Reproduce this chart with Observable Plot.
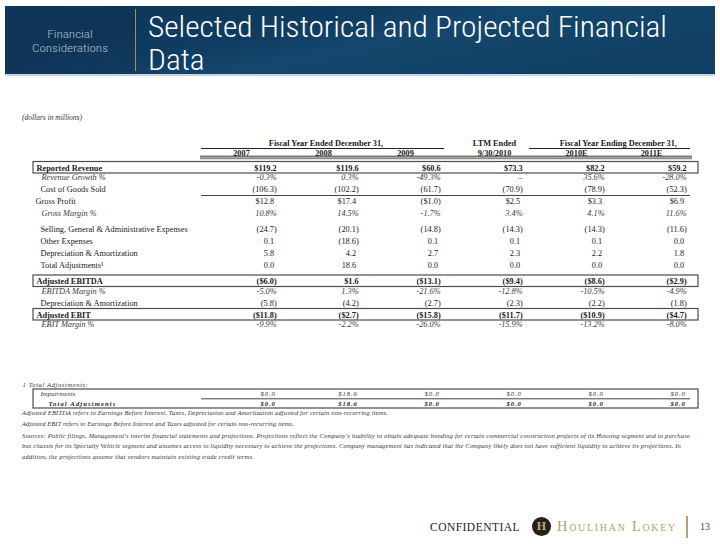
<!DOCTYPE html>
<html>
<head>
<meta charset="utf-8">
<script src="https://cdn.jsdelivr.net/npm/d3@7"></script>
<script src="https://cdn.jsdelivr.net/npm/@observablehq/plot@0.6"></script>
<style>
  body { margin: 0; background: #fff; width: 720px; height: 544px; position: relative; overflow: hidden; font-family: "Liberation Serif", serif; }
  .abs { position: absolute; white-space: nowrap; }
  #banner { left: 5px; top: 6px; width: 710px; height: 68px;
    background: linear-gradient(168deg, #0e3659 0%, #0f3c61 38%, #15476e 52%, #124368 70%, #104064 100%); }
  #panel { left: 5px; top: 6px; width: 130px; height: 68px;
    background: linear-gradient(165deg, #0f3658 0%, #0e3455 50%, #123b5e 100%); }
  #goldbar { left: 135px; top: 9px; width: 1px; height: 62px; background: #a48d5e; }
  #underbar { left: 5px; top: 74px; width: 710px; height: 2px; background: #c9d5de; }
  .narrow { font-family: "Roboto Condensed", "Roboto", "Liberation Sans Narrow", "Liberation Sans", Arial, sans-serif; font-weight: 300; }
  #panelText { left: 5px; top: 27px; width: 130px; text-align: center; color: #b3c0cd; font-size: 11.8px; line-height: 14px; }
  #title { left: 148px; top: 10px; color: #fff; font-size: 30px; line-height: 33px; transform-origin: left top; }
  #title div { display: block; }
  #title span { display: inline-block; }
  #units { left: 22px; top: 113px; font-size: 7.5px; font-style: italic; color: #333; }
  .note { left: 22px; font-size: 6.5px; font-style: italic; color: #333; line-height: 8px; }
  #plotHolder { left: 0; top: 80px; width: 720px; height: 340px; }
  #confidential { left: 430px; top: 519px; font-size: 11.5px; color: #1c1c1c; line-height: 16px; }
  #logo { left: 532px; top: 517px; width: 19px; height: 19px; border-radius: 50%; background: #25201c; color: #c4a877; font: bold 12px/19px "Liberation Serif", serif; text-align: center; }
  #firm { left: 557px; top: 518px; color: #b89e70; font-size: 14.5px; line-height: 17px; font-variant: small-caps; }
  #sep { left: 686px; top: 516px; width: 1.5px; height: 22px; background: #b89e70; }
  #page { left: 700px; top: 520px; font-size: 10px; line-height: 14px; color: #444; }
</style>
</head>
<body>
<div id="banner" class="abs"></div>
<div id="panel" class="abs"></div>
<div id="goldbar" class="abs"></div>
<div id="underbar" class="abs"></div>
<div id="panelText" class="abs narrow"><div>Financial</div><div><span id="consid" style="display:inline-block">Considerations</span></div></div>
<div id="title" class="abs narrow"><div><span id="t1">Selected Historical and Projected Financial</span></div><div>Data</div></div>
<div id="units" class="abs">(dollars in millions)</div>
<div id="plotHolder" class="abs"></div>
<div id="notes"></div>
<div id="confidential" class="abs">CONFIDENTIAL</div>
<div id="logo" class="abs">H</div>
<div id="firm" class="abs">Houlihan Lokey</div>
<div id="sep" class="abs"></div>
<div id="page" class="abs">13</div>
<script>
// ---------------- DATA ----------------
const years = ["2007", "2008", "2009", "9/30/2010", "2010E", "2011E"];
const groupHeaders = ["Fiscal Year Ended December 31,", "LTM Ended", "Fiscal Year Ending December 31,"];
const rowLabels = [
  "Reported Revenue", "Revenue Growth %", "Cost of Goods Sold", "Gross Profit", "Gross Margin %",
  "Selling, General & Administrative Expenses", "Other Expenses", "Depreciation & Amortization", "Total Adjustments¹",
  "Adjusted EBITDA", "EBITDA Margin %", "Depreciation & Amortization", "Adjusted EBIT", "EBIT Margin %"
];
const reportedRevenue  = [119.2, 119.6, 60.6, 73.3, 82.2, 59.2];
const revenueGrowth    = [-0.3, 0.3, -49.3, null, 35.6, -28.0];
const costOfGoodsSold  = [-106.3, -102.2, -61.7, -70.9, -78.9, -52.3];
const grossProfit      = [12.8, 17.4, -1.0, 2.5, 3.3, 6.9];
const grossMargin      = [10.8, 14.5, -1.7, 3.4, 4.1, 11.6];
const sgaExpenses      = [-24.7, -20.1, -14.8, -14.3, -14.3, -11.6];
const otherExpenses    = [0.1, -18.6, 0.1, 0.1, 0.1, 0.0];
const depreciation     = [5.8, 4.2, 2.7, 2.3, 2.2, 1.8];
const totalAdjustments = [0.0, 18.6, 0.0, 0.0, 0.0, 0.0];
const adjustedEbitda   = [-6.0, 1.6, -13.1, -9.4, -8.6, -2.9];
const ebitdaMargin     = [-5.0, 1.3, -21.6, -12.8, -10.5, -4.9];
const depreciationEbit = [-5.8, -4.2, -2.7, -2.3, -2.2, -1.8];
const adjustedEbit     = [-11.8, -2.7, -15.8, -11.7, -10.9, -4.7];
const ebitMargin       = [-9.9, -2.2, -26.0, -15.9, -13.2, -8.0];
const adjustmentTitle  = "1 Total Adjustments:";
const adjustmentLabels = ["Impairments", "Total Adjustments"];
const impairments      = [0.0, 18.6, 0.0, 0.0, 0.0, 0.0];
const adjustmentTotal  = [0.0, 18.6, 0.0, 0.0, 0.0, 0.0];
const footnotes = [
  "Adjusted EBITDA refers to Earnings Before Interest, Taxes, Depreciation and Amortization adjusted for certain non-recurring items.",
  "Adjusted EBIT refers to Earnings Before Interest and Taxes  adjusted for certain non-recurring items.",
  "Sources: Public filings, Management's interim financial statements and projections. Projections reflect the Company's inability to obtain adequate bonding for certain commercial construction projects of its Housing segment and to purchase",
  "bus chassis for its Specialty Vehicle segment and assumes access to liquidity necessary to achieve the projections. Company management has indicated that the Company likely does not have sufficient liquidity to achieve its projections. In",
  "addition, the projections assume that vendors maintain existing trade credit terms."
];

// ---------------- TABLE STRUCTURE (semantic) ----------------
const series = [reportedRevenue, revenueGrowth, costOfGoodsSold, grossProfit, grossMargin,
  sgaExpenses, otherExpenses, depreciation, totalAdjustments,
  adjustedEbitda, ebitdaMargin, depreciationEbit, adjustedEbit, ebitMargin];
const formats = ["dollar", "percent", "number", "dollar", "percent", "number", "number", "number", "number",
  "dollar", "percent", "number", "dollar", "percent"];
const levels = ["total", "ratio", "item", "subtotal", "ratio", "item", "item", "item", "item",
  "total", "ratio", "item", "total", "ratio"];
const sections = [0, 0, 0, 0, 0, 1, 1, 1, 1, 2, 2, 2, 2, 2];

// ---------------- LAYOUT ----------------
const L = { firstRow: 167.5, step: 12, ratioStep: 9.5, sectionStep: 16, notesTop: 384 };

const rows = [];
rowLabels.forEach((label, i) => {
  let y = L.firstRow;
  if (i > 0) {
    const prev = rows[i - 1];
    const gap = (levels[i] === "ratio" && prev.level === "total") ? L.ratioStep
      : (sections[i] !== prev.section ? L.sectionStep : L.step);
    y = prev.y + gap;
  }
  rows.push({ label, y, level: levels[i], format: formats[i], section: sections[i], values: series[i] });
});

function fmt(v, f) {
  if (v == null) return "–";
  const a = Math.abs(v).toFixed(1);
  if (f === "percent") return v.toFixed(1) + "%";
  if (f === "dollar") return v < 0 ? `($${a})` : `$${a}`;
  return v < 0 ? `(${a})` : a;
}

const cells = rows.flatMap(r => r.values.map((v, j) => ({
  col: years[j], y: r.y, text: fmt(v, r.format), level: r.level,
  pad: r.format !== "percent" && v != null && v >= 0
})));

const hdr1Y = L.firstRow - 24.5, hdr2Y = L.firstRow - 15;
const boxRows = rows.filter(r => r.level === "total");
const cogsRow = rows[2];
const shifted = [years[3], years[4]];

// footnote mini table
const adjY = [L.notesTop + 9.5, L.notesTop + 19.5];
const adjCells = [impairments, adjustmentTotal].flatMap((arr, k) => arr.map((v, j) => ({
  col: years[j], y: adjY[k], text: "$" + v.toFixed(1), k })));

const xRange = [199, 693];
const bw = (xRange[1] - xRange[0]) / years.length;

const serif = "Liberation Serif, Times New Roman, serif";
const small = 6.6;
const plot = Plot.plot({
  width: 720, height: 340,
  marginLeft: 33, marginRight: 22, marginTop: 0, marginBottom: 0,
  x: { type: "band", domain: years, range: xRange, padding: 0, axis: null },
  y: { type: "linear", domain: [80, 420], range: [0, 340], axis: null },
  style: { background: "transparent", fontFamily: serif, fontSize: "8.3px", color: "#1a1a1a", overflow: "visible" },
  marks: [
    // boxes
    Plot.rect(boxRows, { y1: d => d.y - 6, y2: d => d.y + 5.5, fill: "none", stroke: "#4d4d4d", strokeWidth: 1.2 }),
    // group headers
    Plot.text([groupHeaders[0]], { x: () => years[1], y: () => hdr1Y, text: d => d, fontWeight: "bold", dx: 2.5 }),
    Plot.text([groupHeaders[1]], { x: () => years[3], y: () => hdr1Y, text: d => d, fontWeight: "bold", dx: 7 }),
    Plot.text([groupHeaders[2]], { x: () => years[5], y: () => hdr1Y, text: d => d, fontWeight: "bold", dx: -bw / 2 + 8 }),
    Plot.ruleY([{ a: years[0], b: years[2] }, { a: years[4], b: years[5] }],
      { x1: "a", x2: "b", y: () => hdr1Y + 5, stroke: "#222", strokeWidth: 1, insetLeft: 1, insetRight: 2 }),
    // column headers
    Plot.text(years.filter(d => !shifted.includes(d)), { x: d => d, y: () => hdr2Y, text: d => d, fontWeight: "bold" }),
    Plot.text(shifted, { x: d => d, y: () => hdr2Y, text: d => d, fontWeight: "bold", dx: 7 }),
    Plot.ruleY([0], { x1: () => years[0], x2: () => years[5], y: () => hdr2Y + 3.2, stroke: "#222", strokeWidth: 0.9 }),
    Plot.ruleY([0], { x1: () => years[0], x2: () => years[5], y: () => hdr2Y + 5.2, stroke: "#8a8a8a", strokeWidth: 2 }),
    // subtotal rule under COGS
    Plot.ruleY([cogsRow], { x1: () => years[0], x2: () => years[5], y: d => d.y + 6, stroke: "#444", strokeWidth: 1, insetLeft: 1, insetRight: 2 }),
    // row labels
    Plot.text(rows.filter(r => r.level === "total"), { y: "y", text: "label", frameAnchor: "left", textAnchor: "start", dx: 3, fontWeight: "bold" }),
    Plot.text(rows.filter(r => r.level === "subtotal"), { y: "y", text: "label", frameAnchor: "left", textAnchor: "start", dx: 2 }),
    Plot.text(rows.filter(r => r.level === "item"), { y: "y", text: "label", frameAnchor: "left", textAnchor: "start", dx: 7 }),
    Plot.text(rows.filter(r => r.level === "ratio"), { y: "y", text: "label", frameAnchor: "left", textAnchor: "start", dx: 8, fontStyle: "italic", fill: "#3a3a3a" }),
    // values
    Plot.text(cells.filter(c => c.level === "total"), { x: "col", y: "y", text: "text", textAnchor: "end", dx: bw / 2 - 6, fontWeight: "bold" }),
    Plot.text(cells.filter(c => c.level !== "total" && c.level !== "ratio" && !c.pad), { x: "col", y: "y", text: "text", textAnchor: "end", dx: bw / 2 - 6 }),
    Plot.text(cells.filter(c => c.level !== "total" && c.level !== "ratio" && c.pad), { x: "col", y: "y", text: "text", textAnchor: "end", dx: bw / 2 - 8.5 }),
    Plot.text(cells.filter(c => c.level === "ratio"), { x: "col", y: "y", text: "text", textAnchor: "end", dx: bw / 2 - 6, fontStyle: "italic", fill: "#3a3a3a" }),
    // footnote mini table
    Plot.text([adjustmentTitle], { y: () => L.notesTop, text: d => d, frameAnchor: "left", textAnchor: "start", dx: -11, fontStyle: "italic", fontSize: small, fill: "#333" }),
    Plot.rect([0], { y1: () => L.notesTop + 5, y2: () => L.notesTop + 24, fill: "none", stroke: "#4d4d4d", strokeWidth: 1.2 }),
    Plot.ruleY([0], { x1: () => years[0], x2: () => years[5], y: () => L.notesTop + 14.3, stroke: "#444", strokeWidth: 1, insetLeft: 1, insetRight: 2 }),
    Plot.text([adjustmentLabels[0]], { y: () => adjY[0], text: d => d, frameAnchor: "left", textAnchor: "start", dx: 7, fontStyle: "italic", fontSize: small, fill: "#333" }),
    Plot.text([adjustmentLabels[1]], { y: () => adjY[1], text: d => d, frameAnchor: "left", textAnchor: "start", dx: 15, fontStyle: "italic", fontWeight: "bold", fontSize: small, fill: "#222" }),
    Plot.text(adjCells.filter(c => c.k === 0), { x: "col", y: "y", text: "text", textAnchor: "end", dx: bw / 2 - 7, fontStyle: "italic", fontSize: small, fill: "#333" }),
    Plot.text(adjCells.filter(c => c.k === 1), { x: "col", y: "y", text: "text", textAnchor: "end", dx: bw / 2 - 7, fontStyle: "italic", fontWeight: "bold", fontSize: small, fill: "#222" })
  ]
});
document.getElementById("plotHolder").appendChild(plot);
// letter-spacing of the small footnote-table text, fitted to the reference widths
const spacedWidths = { [adjustmentTitle]: 66, [adjustmentLabels[0]]: 35, [adjustmentLabels[1]]: 68 };
d3.select(plot).selectAll("text").each(function () {
  const t = this.textContent;
  const fs = this.getAttribute("font-size") || (this.parentNode && this.parentNode.getAttribute("font-size"));
  if (fs && Math.abs(parseFloat(fs) - small) < 0.01) {
    if (spacedWidths[t]) {
      const w = this.getComputedTextLength();
      this.setAttribute("letter-spacing", ((spacedWidths[t] - w) / t.length).toFixed(2));
    } else {
      this.setAttribute("letter-spacing", "0.9");
    }
  }
});

// footnote prose
const noteTops = [409, 420, 432, 442, 453];
const noteWidths = [366, 272, 668, 659, 232];
const notesDiv = document.getElementById("notes");
footnotes.forEach((t, i) => {
  const d = document.createElement("div");
  d.className = "abs note";
  d.style.top = noteTops[i] + "px";
  d.textContent = t;
  notesDiv.appendChild(d);
  const w = d.getBoundingClientRect().width;
  d.style.letterSpacing = ((noteWidths[i] - w) / t.length) + "px";
});

// fit condensed header type
const t1 = document.getElementById("t1");
const k = 519 / t1.getBoundingClientRect().width;
document.getElementById("title").style.transform = `scaleX(${k})`;
const consid = document.getElementById("consid");
const k2 = 76 / consid.getBoundingClientRect().width;
const pt = document.getElementById("panelText");
pt.style.transform = `scaleX(${k2})`;
pt.style.transformOrigin = "center top";
const conf = document.getElementById("confidential");
conf.style.letterSpacing = ((90 - conf.getBoundingClientRect().width) / 12) + "px";
const firm = document.getElementById("firm");
firm.style.letterSpacing = ((120 - firm.getBoundingClientRect().width) / 14) + "px";
</script>
</body>
</html>
